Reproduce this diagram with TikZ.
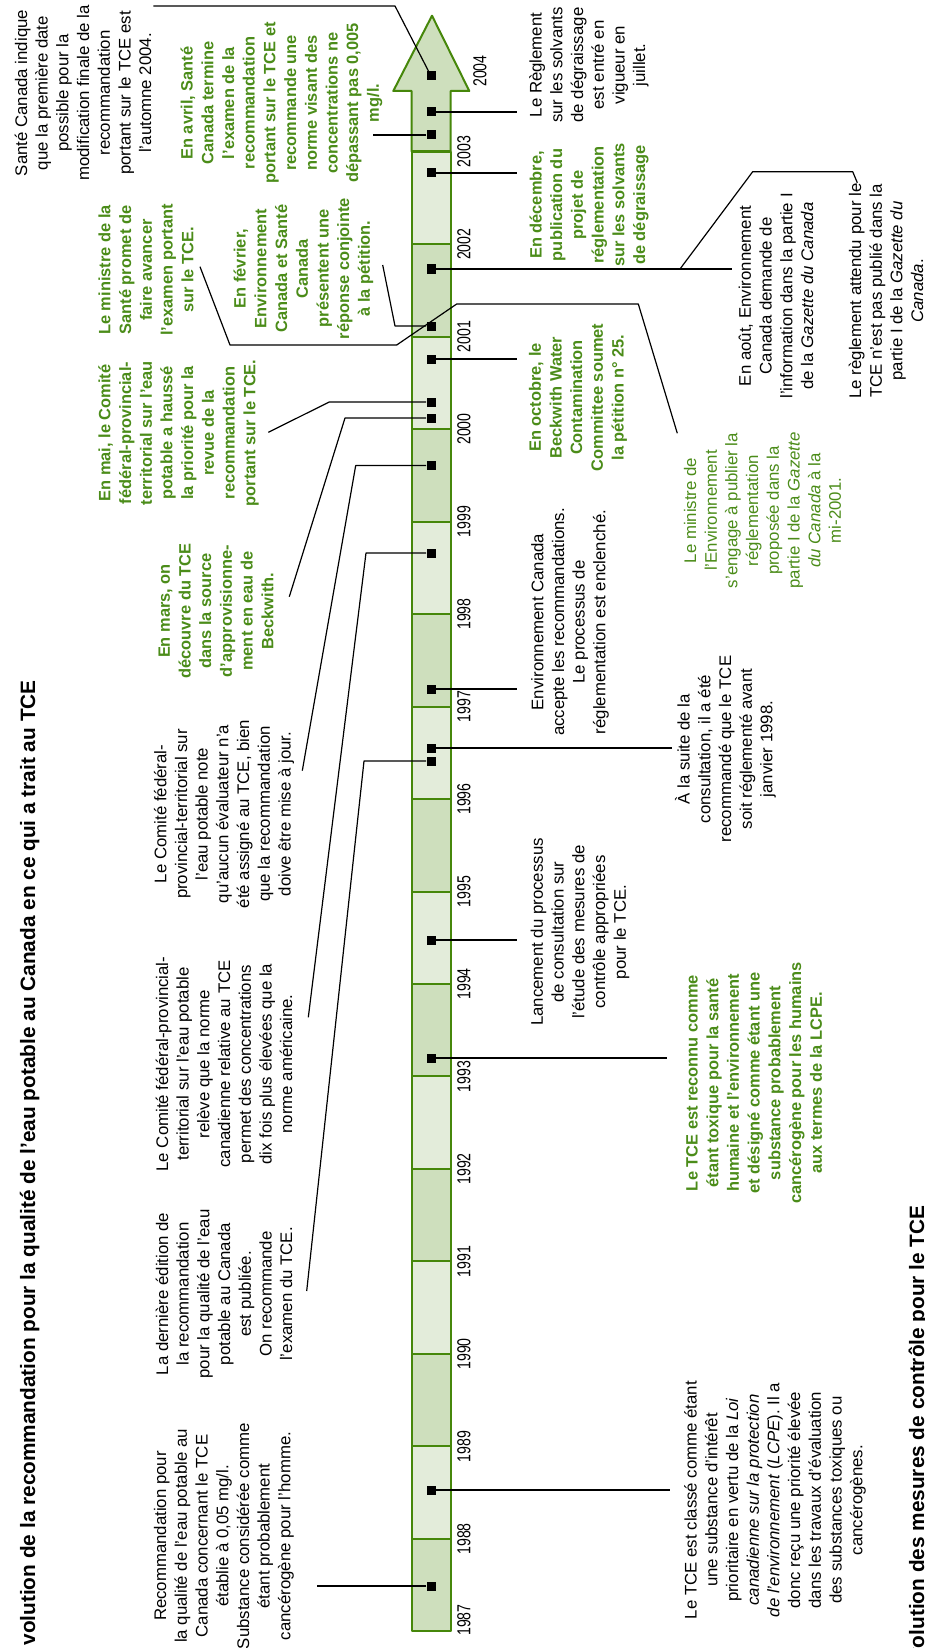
\documentclass[tikz,border=0pt]{standalone}
\usepackage{fontspec}
\setmainfont{Liberation Sans}
\newfontfamily\yearfont{Liberation Sans}[FakeStretch=0.75]
\definecolor{segdark}{RGB}{206,223,189}
\definecolor{seglight}{RGB}{227,236,218}
\definecolor{bordergreen}{RGB}{70,135,10}
\definecolor{txtgreen}{RGB}{75,140,25}
\tikzset{
  txt/.style={rotate=90,align=center,inner sep=0pt,font=\fontsize{8.4}{10.35}\selectfont},
  gtxt/.style={txt,text=txtgreen,font=\fontsize{8.2}{10.35}\selectfont\bfseries},
  gnote/.style={txt,text=txtgreen},
  yr/.style={rotate=90,inner sep=0pt,font=\yearfont\fontsize{9.4}{10}\selectfont},
  titre/.style={rotate=90,inner sep=0pt,font=\fontsize{10.4}{12}\selectfont\bfseries},
  marker/.style={fill=black,minimum size=4.5pt,inner sep=0pt},
  leader/.style={line width=0.6pt},
  seg/.style={draw=bordergreen,line width=1pt}
}
\begin{document}
\begin{tikzpicture}[x=0.5pt,y=-0.5pt,line join=round]
\useasboundingbox (0,0) rectangle (925,1648);
\fill[white] (0,0) rectangle (925,1648);
% ligne du temps
\foreach \i in {0,...,15}{
  \pgfmathsetmacro\ya{1631.3-92.475*\i}
  \pgfmathsetmacro\yb{1631.3-92.475*(\i+1)}
  \ifodd\i \def\segcol{seglight}\else \def\segcol{segdark}\fi
  \draw[seg,fill=\segcol] (411.7,\ya) rectangle (450.7,\yb);
}
\draw[seg,fill=segdark] (411.7,151.7) -- (411.7,91) -- (393.3,91) -- (432,15.7)
  -- (469.3,91) -- (450.7,91) -- (450.7,151.7) -- cycle;
\draw[bordergreen,line width=1.6pt] (411.7,151.7) -- (450.7,151.7);
% annees
\node[yr] (y1987) at (464,1620) {1987};
\foreach \i in {1,...,16}{
  \pgfmathtruncatemacro\yy{1987+\i}
  \node[yr] (y\yy) at (464,{1631.3-92.475*\i}) {\yy};
}
\node[yr] (y2004) at (480,71) {2004};
% reperes
\node[marker] (mk87) at (431,1586) {};
\node[marker] (mk88) at (431,1490) {};
\node[marker] (mk93) at (431,1058) {};
\node[marker] (mk94) at (431,940) {};
\node[marker] (mk96a) at (431,761) {};
\node[marker] (mk96b) at (431,748) {};
\node[marker] (mk97) at (431,689) {};
\node[marker] (mk98) at (431,553) {};
\node[marker] (mk99) at (431,465.5) {};
\node[marker] (mk00a) at (431,418) {};
\node[marker] (mk00b) at (431,402) {};
\node[marker] (mk00c) at (431,359) {};
\node[marker] (mk01a) at (431,326) {};
\node[marker] (mk01b) at (431,269) {};
\node[marker] (mk02) at (431,173) {};
\node[marker] (mk03a) at (431,135) {};
\node[marker] (mk03b) at (431,112) {};
\node[marker] (mk04) at (431,76) {};
% titres
\node[titre,anchor=base east] (titre1) at (35,680) {volution de la recommandation pour la qualité de l’eau potable au Canada en ce qui a trait au TCE};
\node[titre,anchor=base east] (titre2) at (924,1205) {volution des mesures de contrôle pour le TCE};
% textes a gauche
\node[txt] (recom87) at (224,1536) {Recommandation pour\\la qualité de l’eau potable au\\Canada concernant le TCE\\établie à 0,05 mg/l.\\Substance considérée comme\\étant probablement\\cancérogène pour l’homme.};
\node[txt] (edition) at (224,1294) {La dernière édition de\\la recommandation\\pour la qualité de l’eau\\potable au Canada\\est publiée.\\On recommande\\l’examen du TCE.};
\node[txt] (releve) at (224,1064) {Le Comité fédéral-provincial-\\territorial sur l’eau potable\\relève que la norme\\canadienne relative au TCE\\permet des concentrations\\dix fois plus élevées que la\\norme américaine.};
\node[txt] (note) at (224,814) {Le Comité fédéral-\\provincial-territorial sur\\l’eau potable note\\qu’aucun évaluateur n’a\\été assigné au TCE, bien\\que la recommandation\\doive être mise à jour.};
\node[gtxt] (mars) at (216,611) {En mars, on\\découvre du TCE\\dans la source\\d’approvisionne-\\ment en eau de\\Beckwith.};
\node[gtxt] (mai) at (178.5,433) {En mai, le Comité\\fédéral-provincial-\\territorial sur l’eau\\potable a haussé\\la priorité pour la\\revue de la\\recommandation\\portant sur le TCE.};
\node[gtxt] (minsante) at (146,270) {Le ministre de la\\Santé promet de\\faire avancer\\l’examen portant\\sur le TCE.};
\node[gtxt] (fevrier) at (303.5,268.5) {En février,\\Environnement\\Canada et Santé\\Canada\\présentent une\\réponse conjointe\\à la pétition.};
\node[txt] (indique) at (83,93) {Santé Canada indique\\que la première date\\possible pour la\\modification finale de la\\recommandation\\portant sur le TCE est\\l’automne 2004.};
\node[gtxt] (avril) at (281.5,103) {En avril, Santé\\Canada termine\\l’examen de la\\recommandation\\portant sur le TCE et\\recommande une\\norme visant des\\concentrations ne\\dépassant pas 0,005\\mg/l.};
% textes a droite
\node[txt] (reglement) at (589,65) {Le Règlement\\sur les solvants\\de dégraissage\\est entré en\\vigueur en\\juillet.};
\node[gtxt] (decembre) at (589,205) {En décembre,\\publication du\\projet de\\réglementation\\sur les solvants\\de dégraissage};
\node[txt] (aout) at (776,296) {En août, Environnement\\Canada demande de\\l’information dans la partie I\\de la \textit{Gazette du Canada}};
\node[txt] (attendu) at (886,291) {Le règlement attendu pour le\\TCE n’est pas publié dans la\\partie I de la \textit{Gazette du}\\\textit{Canada}.};
\node[gtxt] (octobre) at (578,397.5) {En octobre, le\\Beckwith Water\\Contamination\\Committee soumet\\la pétition n° 25.};
\node[gnote] (minenv) at (762.5,510.5) {Le ministre de\\l’Environnement\\s’engage à publier la\\réglementation\\proposée dans la\\partie I de la \textit{Gazette}\\\textit{du Canada} à la\\mi-2001.};
\node[txt] (accepte) at (570,622) {Environnement Canada\\accepte les recommandations.\\Le processus de\\réglementation est enclenché.};
\node[txt] (suite) at (725.5,749) {À la suite de la\\consultation, il a été\\recommandé que le TCE\\soit réglementé avant\\janvier 1998.};
\node[txt] (lancement) at (580,932) {Lancement du processus\\de consultation sur\\l’étude des mesures de\\contrôle appropriées\\pour le TCE.};
\node[gtxt] (reconnu) at (754,1083) {Le TCE est reconnu comme\\étant toxique pour la santé\\humaine et l’environnement\\et désigné comme étant une\\substance probablement\\cancérogène pour les humains\\aux termes de la LCPE.};
\node[txt] (classe) at (775,1500) {Le TCE est classé comme étant\\une substance d’intérêt\\prioritaire en vertu de la \textit{Loi}\\\textit{canadienne sur la protection}\\\textit{de l’environnement} (\textit{LCPE}). Il a\\donc reçu une priorité élevée\\dans les travaux d’évaluation\\des substances toxiques ou\\cancérogènes.};
% bouts des traits
\coordinate (recom87-tip) at (316.7,1586);
\coordinate (classe-tip) at (670,1490);
\coordinate (reconnu-tip) at (666.7,1058);
\coordinate (lancement-tip) at (516.7,940);
\coordinate (edition-bend) at (364,761);
\coordinate (edition-tip) at (306.7,1291);
\coordinate (suite-tip) at (671.7,748);
\coordinate (accepte-tip) at (516.7,689);
\coordinate (releve-bend) at (366,553);
\coordinate (releve-tip) at (308.3,1017.3);
\coordinate (note-bend) at (355.7,465.5);
\coordinate (note-tip) at (302.3,770.7);
\coordinate (mars-bend) at (345,418);
\coordinate (mars-tip) at (289.3,596.7);
\coordinate (mai-bend) at (329.3,402);
\coordinate (mai-tip) at (268.3,432.3);
\coordinate (octobre-tip) at (516.7,359);
\coordinate (fevrier-bend) at (395,326);
\coordinate (fevrier-tip) at (382.7,265);
\coordinate (minsante-tip) at (200,266.7);
\coordinate (ministre-b1) at (230,345);
\coordinate (ministre-b2) at (396.7,345);
\coordinate (ministre-b3) at (456.7,304);
\coordinate (ministre-b4) at (638.3,304);
\coordinate (minenv-tip) at (677.3,433.3);
\coordinate (aout-tip) at (731.7,269);
\coordinate (aout-fork) at (680,269);
\coordinate (attendu-bend1) at (752.7,171.7);
\coordinate (attendu-bend2) at (852.7,171.7);
\coordinate (attendu-tip) at (857.3,182.7);
\coordinate (decembre-tip) at (516.7,173);
\coordinate (avril-tip) at (373.3,135);
\coordinate (reglement-tip) at (516.7,112);
\coordinate (indique-bend) at (395,6);
\coordinate (indique-tip) at (153.3,6);
% traits de rappel
\draw[leader] (mk87) -- (recom87-tip);
\draw[leader] (mk88) -- (classe-tip);
\draw[leader] (mk93) -- (reconnu-tip);
\draw[leader] (mk94) -- (lancement-tip);
\draw[leader] (mk96a) -- (edition-bend) -- (edition-tip);
\draw[leader] (mk96b) -- (suite-tip);
\draw[leader] (mk97) -- (accepte-tip);
\draw[leader] (mk98) -- (releve-bend) -- (releve-tip);
\draw[leader] (mk99) -- (note-bend) -- (note-tip);
\draw[leader] (mk00a) -- (mars-bend) -- (mars-tip);
\draw[leader] (mk00b) -- (mai-bend) -- (mai-tip);
\draw[leader] (mk00c) -- (octobre-tip);
\draw[leader] (mk01a) -- (fevrier-bend) -- (fevrier-tip);
\draw[leader] (minsante-tip) -- (ministre-b1) -- (ministre-b2) -- (ministre-b3) -- (ministre-b4) -- (minenv-tip);
\draw[leader] (mk01b) -- (aout-tip);
\draw[leader] (aout-fork) -- (attendu-bend1) -- (attendu-bend2) -- (attendu-tip);
\draw[leader] (mk02) -- (decembre-tip);
\draw[leader] (mk03a) -- (avril-tip);
\draw[leader] (mk03b) -- (reglement-tip);
\draw[leader] (mk04) -- (indique-bend) -- (indique-tip);
\end{tikzpicture}
\end{document}
